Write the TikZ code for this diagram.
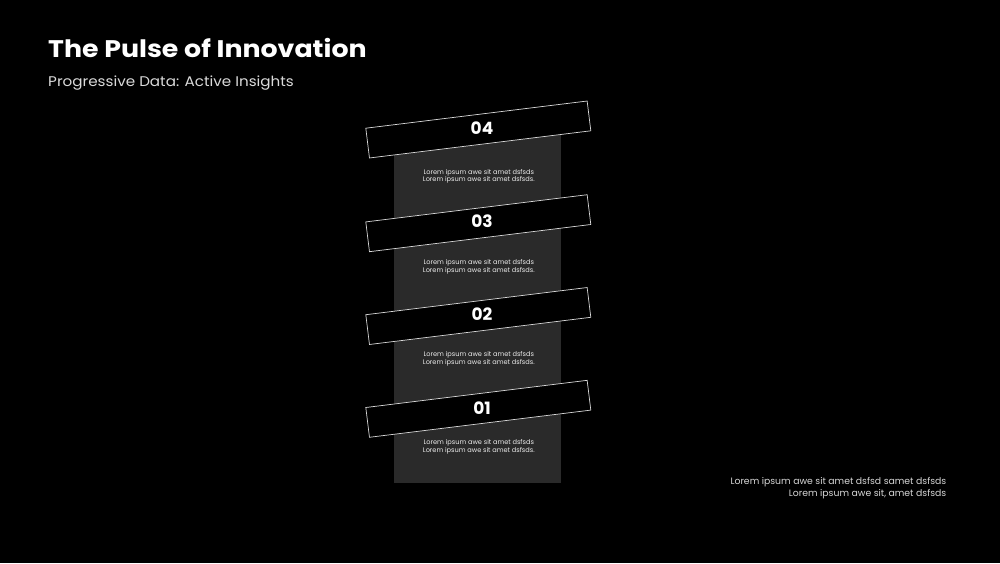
\documentclass[tikz,border=0pt]{standalone}
\usepackage{fontspec}
\setmainfont{Poppins}
\definecolor{panel}{HTML}{2A2A2A}
\definecolor{subgrey}{HTML}{DADADA}
\definecolor{notegrey}{HTML}{D6D6D6}
\begin{document}
\begin{tikzpicture}[x=1pt,y=-1pt,
  band/.style={draw=white!85!black, line width=0.7pt, fill=black, minimum width=223pt, minimum height=30pt, rotate=7, inner sep=0pt},
  numlabel/.style={text=white, font=\bfseries\fontsize{17}{17}\selectfont, inner sep=0pt},
  lorem/.style={text=white!92!black, font=\fontsize{6.6}{7.8}\selectfont, align=center, inner sep=0pt},
  note/.style={text=notegrey, font=\fontsize{9.3}{12}\selectfont, align=right, inner sep=0pt, anchor=east}]
\fill[black] (0,0) rectangle (1000,563);
\useasboundingbox (0,0) rectangle (1000,563);
% title
\node[anchor=base west, inner sep=0pt, xscale=1.117, text=white, font=\bfseries\fontsize{24}{24}\selectfont] (title) at (48,57.3) {The Pulse of Innovation};
\node[anchor=base west, inner sep=0pt, xscale=1.084, text=subgrey, font=\fontsize{14}{14}\selectfont] (subtitle) at (48,86) {Progressive Data: Active Insights};
% panel
\fill[panel] (393.5,135) rectangle (560.5,483.3);
% bands
\node[band] (b4) at (478.3,129.5) {};
\node[band] (b3) at (478.3,223.2) {};
\node[band] (b2) at (478.3,316) {};
\node[band] (b1) at (478.3,408.8) {};
\node[numlabel] (n4) at (482,128.3) {04};
\node[numlabel] (n3) at (482,221) {03};
\node[numlabel] (n2) at (482,314.3) {02};
\node[numlabel] (n1) at (482,407.7) {01};
% texts
\node[lorem] (t4) at (478.8,176.3) {Lorem ipsum awe sit amet dsfsds\\Lorem ipsum awe sit amet dsfsds.};
\node[lorem] (t3) at (478.8,266.5) {Lorem ipsum awe sit amet dsfsds\\Lorem ipsum awe sit amet dsfsds.};
\node[lorem] (t2) at (478.8,359) {Lorem ipsum awe sit amet dsfsds\\Lorem ipsum awe sit amet dsfsds.};
\node[lorem] (t1) at (478.8,446.7) {Lorem ipsum awe sit amet dsfsds\\Lorem ipsum awe sit amet dsfsds.};
% note
\node[note] (note) at (946.5,488) {Lorem ipsum awe sit amet dsfsd samet dsfsds\\Lorem ipsum awe sit, amet dsfsds};
\end{tikzpicture}
\end{document}
